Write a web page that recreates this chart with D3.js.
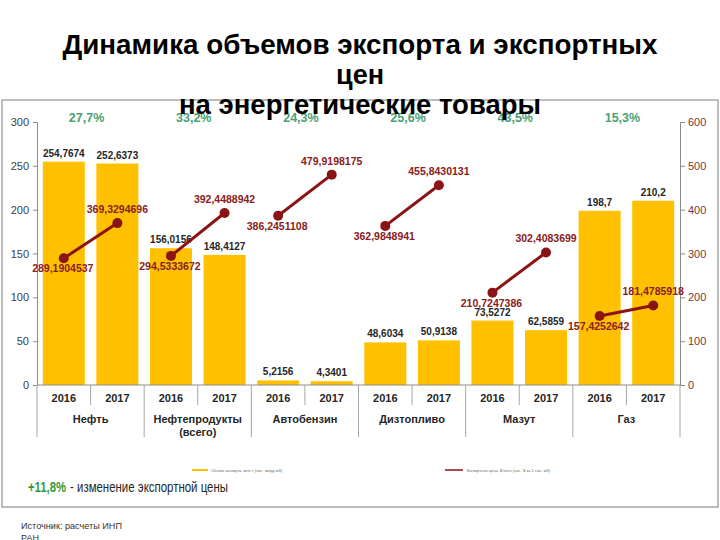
<!DOCTYPE html>
<html><head><meta charset="utf-8">
<script src="https://cdn.jsdelivr.net/npm/d3@7"></script>
<style>body{margin:0;background:#fff}svg{display:block;font-family:"Liberation Sans",Arial,sans-serif}</style>
</head><body><svg id="c" width="720" height="540"></svg>
<script>
const categories = ["Нефть", "Нефтепродукты\n(всего)", "Автобензин", "Дизтопливо", "Мазут", "Газ"];
const years = ["2016", "2017"];
const volume2016 = [254.7674, 156.0156, 5.2156, 48.6034, 73.5272, 198.7];
const volume2017 = [252.6373, 148.4127, 4.3401, 50.9138, 62.5859, 210.2];
const volumeLabels2016 = ["254,7674", "156,0156", "5,2156", "48,6034", "73,5272", "198,7"];
const volumeLabels2017 = ["252,6373", "148,4127", "4,3401", "50,9138", "62,5859", "210,2"];
const price2016 = [289.1904537, 294.5333672, 386.2451108, 362.9848941, 210.7247386, 157.4252642];
const price2017 = [369.3294696, 392.4488942, 479.9198175, 455.8430131, 302.4083699, 181.4785918];
const priceChange = ["27,7%", "33,2%", "24,3%", "25,6%", "43,5%", "15,3%"];
const leftTicks = [0, 50, 100, 150, 200, 250, 300];
const rightTicks = [0, 100, 200, 300, 400, 500, 600];
const titleLines = ["Динамика объемов экспорта и экспортных", "цен", "на энергетические товары"];
const legendLabels = ["Объем экспорта, млн т (газ - млрд м3)", "Экспортная цена, $/тонн (газ - $ за 1 тыс. м3)"];

const svg = d3.select("#c");
const fmt = v => String(v).replace(".", ",");

// frame
svg.append("rect").attr("x", 2).attr("y", 100).attr("width", 716).attr("height", 407)
  .attr("fill", "none").attr("stroke", "#a6a6a6").attr("stroke-width", 1.5);

const x0 = d3.scaleBand().domain(categories).range([37, 680]);
const x1 = d3.scaleBand().domain(years).range([0, x0.bandwidth()]).paddingInner(0.216).paddingOuter(0.108);
const yL = d3.scaleLinear().domain([0, 300]).range([385, 122]);
const yR = d3.scaleLinear().domain([0, 600]).range([385, 122]);

const vols = [volume2016, volume2017];
const volLabs = [volumeLabels2016, volumeLabels2017];
const prices = [price2016, price2017];

// bars
categories.forEach((c, i) => {
  years.forEach((yr, j) => {
    const xb = x0(c) + x1(yr);
    const v = vols[j][i];
    svg.append("rect").attr("x", xb).attr("y", yL(v)).attr("width", x1.bandwidth())
      .attr("height", yL(0) - yL(v)).attr("fill", "#FFC000");
    svg.append("text").attr("x", xb + x1.bandwidth() / 2).attr("y", yL(v) - 5)
      .attr("text-anchor", "middle").attr("font-size", 10).attr("font-weight", "bold")
      .attr("fill", "#262626").text(volLabs[j][i]);
  });
});

// axes
const gL = svg.append("g").attr("transform", "translate(37,0)")
  .call(d3.axisLeft(yL).tickValues(leftTicks).tickSize(4).tickPadding(4));
gL.selectAll("text").attr("font-size", 11).attr("fill", "#404040").attr("font-family", "Liberation Sans, Arial, sans-serif");
gL.selectAll("line,path").attr("stroke", "#8c8c8c");
const gR = svg.append("g").attr("transform", "translate(680,0)")
  .call(d3.axisRight(yR).tickValues(rightTicks).tickSize(5).tickPadding(3));
gR.selectAll("text").attr("font-size", 11).attr("fill", "#7b3535").attr("font-family", "Liberation Sans, Arial, sans-serif");
gR.selectAll("line,path").attr("stroke", "#8c8c8c");

// x axis base and dividers
svg.append("line").attr("x1", 37).attr("x2", 680).attr("y1", yL(0)).attr("y2", yL(0)).attr("stroke", "#8c8c8c");
categories.forEach((c, i) => {
  svg.append("line").attr("x1", x0(c)).attr("x2", x0(c)).attr("y1", yL(0)).attr("y2", 437).attr("stroke", "#a6a6a6");
  const mid = x0(c) + x0.bandwidth() / 2;
  svg.append("line").attr("x1", mid).attr("x2", mid).attr("y1", yL(0)).attr("y2", 405).attr("stroke", "#a6a6a6");
  years.forEach(yr => {
    svg.append("text").attr("x", x0(c) + x1(yr) + x1.bandwidth() / 2).attr("y", 402)
      .attr("text-anchor", "middle").attr("font-size", 11).attr("font-weight", "bold").attr("fill", "#262626").text(yr);
  });
  const parts = c.split("\n");
  parts.forEach((p, k) => {
    svg.append("text").attr("x", mid).attr("y", 423 + k * 13).attr("text-anchor", "middle")
      .attr("font-size", 11).attr("font-weight", "bold").attr("fill", "#262626").text(p);
  });
});
svg.append("line").attr("x1", 680).attr("x2", 680).attr("y1", yL(0)).attr("y2", 437).attr("stroke", "#a6a6a6");

// percent changes
categories.forEach((c, i) => {
  svg.append("text").attr("x", x0(c) + x0.bandwidth() / 2 - 4).attr("y", 122)
    .attr("text-anchor", "middle").attr("font-size", 12.5).attr("font-weight", "bold")
    .attr("fill", "#4a9e74").text(priceChange[i]);
});

// price lines
const lineColor = "#8a1414";
categories.forEach((c, i) => {
  const pts = years.map((yr, j) => [x0(c) + x1(yr) + x1.bandwidth() / 2, yR(prices[j][i])]);
  svg.append("path").attr("d", d3.line()(pts)).attr("stroke", lineColor).attr("stroke-width", 3).attr("fill", "none");
  pts.forEach((p, j) => {
    svg.append("circle").attr("cx", p[0]).attr("cy", p[1]).attr("r", 5).attr("fill", lineColor);
    svg.append("text").attr("x", p[0] - (j === 0 ? 1 : 0)).attr("y", j === 0 ? p[1] + 14 : p[1] - 10)
      .attr("text-anchor", "middle").attr("font-size", 10.5).attr("font-weight", "bold")
      .attr("fill", "#8a2020").text(fmt(prices[j][i]));
  });
});

// legend
svg.append("line").attr("x1", 192).attr("x2", 208).attr("y1", 470).attr("y2", 470).attr("stroke", "#FFC000").attr("stroke-width", 2);
svg.append("text").attr("x", 211).attr("y", 471.5).attr("font-size", 4).attr("fill", "#666").text(legendLabels[0]);
svg.append("line").attr("x1", 445).attr("x2", 463).attr("y1", 470).attr("y2", 470).attr("stroke", lineColor).attr("stroke-width", 1.5);
svg.append("text").attr("x", 466).attr("y", 471.5).attr("font-size", 4).attr("fill", "#666").text(legendLabels[1]);

// note
svg.append("text").attr("x", 28).attr("y", 492).attr("font-size", 14).attr("font-weight", "bold")
  .attr("fill", "#2e9a3a").attr("textLength", 38).attr("lengthAdjust", "spacingAndGlyphs").text("+11,8%");
svg.append("text").attr("x", 70).attr("y", 492).attr("font-size", 15).attr("fill", "#262626")
  .attr("textLength", 158).attr("lengthAdjust", "spacingAndGlyphs").text("- изменение экспортной цены");

// source
svg.append("text").attr("x", 21).attr("y", 529).attr("font-size", 9).attr("fill", "#333")
  .attr("textLength", 101).attr("lengthAdjust", "spacingAndGlyphs").text("Источник:  расчеты ИНП");
svg.append("text").attr("x", 21).attr("y", 541).attr("font-size", 9).attr("fill", "#333").text("РАН");

// title (drawn on top)
const tY = [54, 84, 114];
const tW = [595, 0, 362];
titleLines.forEach((t, k) => {
  const el = svg.append("text").attr("x", 360).attr("y", tY[k]).attr("text-anchor", "middle")
    .attr("font-size", 27).attr("font-weight", "bold").attr("fill", "#000").text(t);
  if (tW[k]) el.attr("textLength", tW[k]).attr("lengthAdjust", "spacingAndGlyphs");
});
</script></body></html>
